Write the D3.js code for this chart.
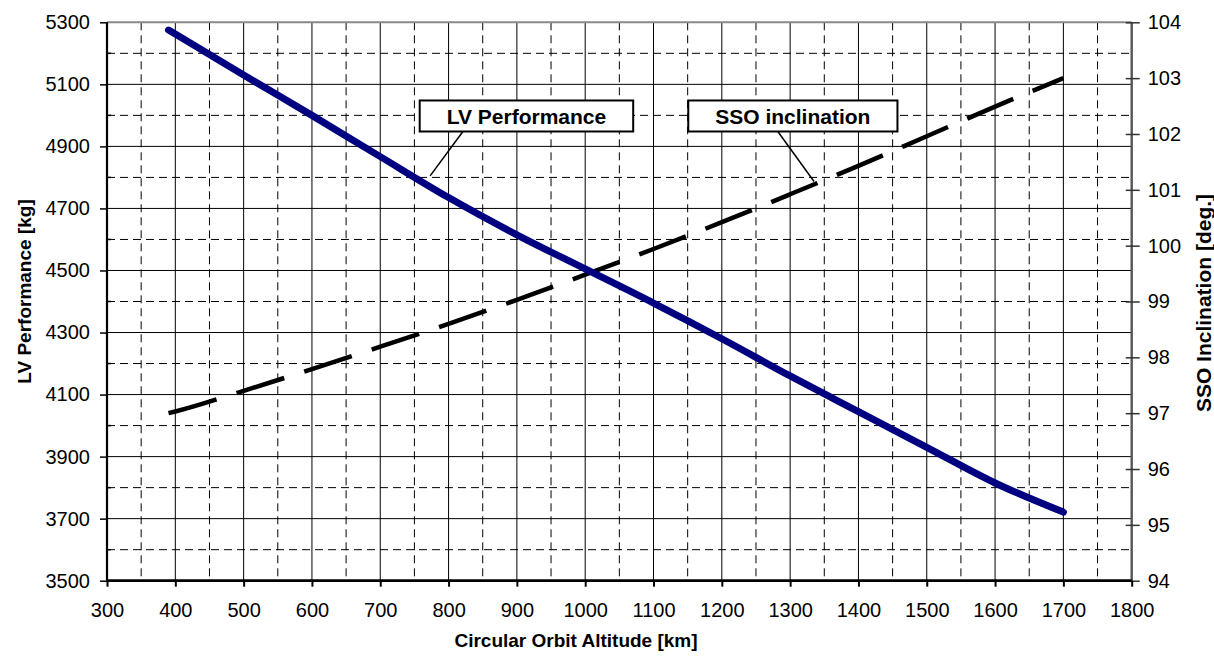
<!DOCTYPE html>
<html>
<head>
<meta charset="utf-8">
<script src="https://cdn.jsdelivr.net/npm/d3@7"></script>
<style>
  html, body { margin: 0; padding: 0; background: #fff; }
  svg { display: block; }
  text { font-family: "Liberation Sans", Arial, sans-serif; fill: #000; }
</style>
</head>
<body>
<svg id="chart" width="1214" height="657"></svg>
<script>
// ---- data ----
const altitudes      = [390, 400, 500, 600, 700, 800, 900, 1000, 1100, 1200, 1300, 1400, 1500, 1600, 1700];
const lvPerformance  = [5275, 5262, 5130, 5000, 4867, 4735, 4615, 4505, 4395, 4280, 4160, 4045, 3930, 3815, 3721];
const ssoInclination = [97.0, 97.03, 97.4, 97.79, 98.19, 98.6, 99.03, 99.48, 99.94, 100.42, 100.92, 101.43, 101.96, 102.49, 103.0];

const xTicks      = [300, 400, 500, 600, 700, 800, 900, 1000, 1100, 1200, 1300, 1400, 1500, 1600, 1700, 1800];
const xMinorTicks = [350, 450, 550, 650, 750, 850, 950, 1050, 1150, 1250, 1350, 1450, 1550, 1650, 1750];
const yLeftTicks  = [3500, 3700, 3900, 4100, 4300, 4500, 4700, 4900, 5100, 5300];
const yLeftMinor  = [3600, 3800, 4000, 4200, 4400, 4600, 4800, 5000, 5200];
const yRightTicks = [94, 95, 96, 97, 98, 99, 100, 101, 102, 103, 104];

const xTitle = "Circular Orbit Altitude [km]";
const yLeftTitle = "LV Performance [kg]";
const yRightTitle = "SSO Inclination [deg.]";

// annotation boxes: centre (km, kg) and leader target (km, value on its own axis)
const annotations = [
  { label: "LV Performance",  cx: 914,  cy: 4998, fromX: 821,  toX: 773,  toY: 4805, axis: "left"  },
  { label: "SSO inclination", cx: 1304, cy: 4998, fromX: 1282, toX: 1335, toY: 101.15, axis: "right" }
];

// ---- layout ----
const L = 107, R = 1131.7, T = 22.3, B = 580.7;
const svg = d3.select("#chart");

const x  = d3.scaleLinear().domain([300, 1800]).range([L, R]);
const yL = d3.scaleLinear().domain([3500, 5300]).range([B, T]);
const yR = d3.scaleLinear().domain([94, 104]).range([B, T]);

// ---- grid ----
const grid = svg.append("g");
grid.selectAll(".vmin").data(xMinorTicks).join("line")
  .attr("x1", d => x(d)).attr("x2", d => x(d)).attr("y1", T).attr("y2", B)
  .attr("stroke", "#000").attr("stroke-width", 1).attr("stroke-dasharray", "8,5");
grid.selectAll(".hmin").data(yLeftMinor).join("line")
  .attr("x1", L).attr("x2", R).attr("y1", d => yL(d)).attr("y2", d => yL(d))
  .attr("stroke", "#000").attr("stroke-width", 1).attr("stroke-dasharray", "8,5");
grid.selectAll(".vmaj").data(xTicks.slice(1, -1)).join("line")
  .attr("x1", d => x(d)).attr("x2", d => x(d)).attr("y1", T).attr("y2", B)
  .attr("stroke", "#000").attr("stroke-width", 1);
grid.selectAll(".hmaj").data(yLeftTicks.slice(1, -1)).join("line")
  .attr("x1", L).attr("x2", R).attr("y1", d => yL(d)).attr("y2", d => yL(d))
  .attr("stroke", "#000").attr("stroke-width", 1);
// top border
svg.append("line").attr("x1", L).attr("x2", R).attr("y1", T).attr("y2", T)
  .attr("stroke", "#888").attr("stroke-width", 2);

// ---- axes ----
const fontTick = "20px";
const gL = svg.append("g").attr("transform", `translate(${L},0)`)
  .call(d3.axisLeft(yL).tickValues(yLeftTicks).tickSize(7).tickPadding(10).tickFormat(d3.format("d")));
gL.select(".domain").attr("stroke", "#000").attr("stroke-width", 2.2).attr("d", `M0,${T}V${B}`);
gL.selectAll(".tick line").attr("stroke", "#000").attr("stroke-width", 1.5);
gL.selectAll("text").style("font-size", fontTick).attr("fill", "#000");
gL.selectAll(".minor").data(yLeftMinor).join("line").attr("class", "minor")
  .attr("x1", 0).attr("x2", 4).attr("y1", d => yL(d)).attr("y2", d => yL(d))
  .attr("stroke", "#000").attr("stroke-width", 1.5);

const gR = svg.append("g").attr("transform", `translate(${R},0)`)
  .call(d3.axisRight(yR).tickValues(yRightTicks).tickSize(8).tickPadding(8).tickFormat(d3.format("d")));
gR.select(".domain").attr("stroke", "#555").attr("stroke-width", 2.4).attr("d", `M0,${T}V${B}`);
gR.selectAll(".tick line").attr("x1", -6).attr("stroke", "#333").attr("stroke-width", 1.5);
gR.selectAll("text").style("font-size", fontTick).attr("fill", "#000");

const gB = svg.append("g").attr("transform", `translate(0,${B})`)
  .call(d3.axisBottom(x).tickValues(xTicks).tickSize(6).tickPadding(16).tickFormat(d3.format("d")));
gB.select(".domain").attr("stroke", "#000").attr("stroke-width", 2.7).attr("d", `M${L},0H${R}`);
gB.selectAll(".tick line").attr("stroke", "#000").attr("stroke-width", 2);
gB.selectAll("text").style("font-size", fontTick).attr("fill", "#000");

// ---- series ----
const pts = altitudes.map((a, i) => ({ a, lv: lvPerformance[i], sso: ssoInclination[i] }));

svg.append("path").datum(pts)
  .attr("fill", "none").attr("stroke", "#000").attr("stroke-width", 4.5)
  .attr("stroke-dasharray", "50,21").attr("stroke-linecap", "butt")
  .attr("d", d3.line().x(d => x(d.a)).y(d => yR(d.sso)).curve(d3.curveMonotoneX));

svg.append("path").datum(pts)
  .attr("fill", "none").attr("stroke", "#000080").attr("stroke-width", 7)
  .attr("stroke-linecap", "round").attr("stroke-linejoin", "round")
  .attr("d", d3.line().x(d => x(d.a)).y(d => yL(d.lv)).curve(d3.curveMonotoneX));

// ---- annotations ----
const boxH = 31;
annotations.forEach(an => {
  const g = svg.append("g");
  const t = g.append("text").attr("x", x(an.cx)).attr("y", yL(an.cy))
    .attr("text-anchor", "middle").attr("dy", "0.36em")
    .style("font-size", "21px").style("font-weight", "bold").text(an.label);
  const bb = t.node().getBBox();
  const w = bb.width + 54;
  const cxp = x(an.cx), cyp = yL(an.cy);
  const ty = an.axis === "left" ? yL(an.toY) : yR(an.toY);
  g.insert("line", "text")
    .attr("x1", x(an.fromX)).attr("y1", cyp + boxH / 2)
    .attr("x2", x(an.toX)).attr("y2", ty)
    .attr("stroke", "#000").attr("stroke-width", 1.5);
  g.insert("rect", "text")
    .attr("x", cxp - w / 2).attr("y", cyp - boxH / 2).attr("width", w).attr("height", boxH)
    .attr("fill", "#fff").attr("stroke", "#000").attr("stroke-width", 2);
});

// ---- titles ----
svg.append("text").attr("x", 576).attr("y", 647).attr("text-anchor", "middle")
  .style("font-size", "19px").style("font-weight", "bold").text(xTitle);
svg.append("text").attr("transform", "translate(31,291.5) rotate(-90)").attr("text-anchor", "middle")
  .style("font-size", "19px").style("font-weight", "bold").text(yLeftTitle);
svg.append("text").attr("transform", "translate(1211,303) rotate(-90)").attr("text-anchor", "middle")
  .style("font-size", "21px").style("font-weight", "bold").text(yRightTitle);
</script>
</body>
</html>
